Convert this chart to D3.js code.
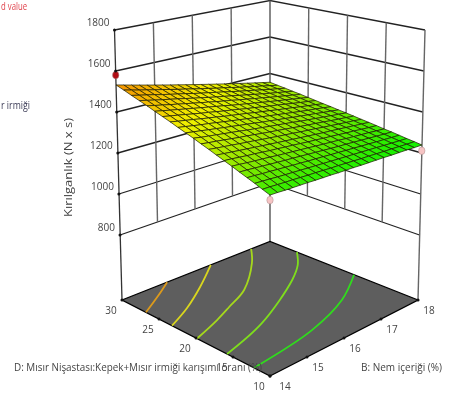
<!DOCTYPE html>
<html>
<head>
<meta charset="utf-8">
<script src="https://cdn.jsdelivr.net/npm/d3@7"></script>
<style>
  body { margin: 0; background: #fff; }
  svg { display: block; filter: blur(0.45px); }
  text { font-family: "Open Sans", sans-serif; font-size: 10px; fill: #444; }
</style>
</head>
<body>
<div id="chart"></div>
<script>
// Values
var zTicks = [800, 1000, 1200, 1400, 1600, 1800];
var bTicks = [14, 15, 16, 17, 18];
var dTicks = [10, 15, 20, 25, 30];

// Fitted surface, one row per D value (10 to 30), one column per B step (14 to 18)
var surfaceB = [14, 14.2, 14.4, 14.6, 14.8, 15, 15.2, 15.4, 15.6, 15.8, 16, 16.2, 16.4, 16.6, 16.8, 17, 17.2, 17.4, 17.6, 17.8, 18];
var surfaceD = [10, 11, 12, 13, 14, 15, 16, 17, 18, 19, 20, 21, 22, 23, 24, 25, 26, 27, 28, 29, 30];
var surfaceZ = [
  [1265,1264,1262,1261,1260,1259,1257,1256,1255,1253,1252,1251,1249,1248,1247,1246,1244,1243,1242,1240,1239],
  [1278,1277,1275,1273,1272,1270,1268,1267,1265,1263,1262,1260,1258,1256,1255,1253,1251,1250,1248,1246,1245],
  [1292,1290,1288,1285,1283,1281,1279,1277,1275,1273,1271,1269,1267,1265,1263,1261,1259,1256,1254,1252,1250],
  [1305,1303,1300,1298,1295,1293,1290,1288,1285,1283,1281,1278,1276,1273,1271,1268,1266,1263,1261,1258,1256],
  [1318,1316,1313,1310,1307,1304,1301,1299,1296,1293,1290,1287,1284,1281,1279,1276,1273,1270,1267,1264,1262],
  [1332,1329,1325,1322,1319,1316,1312,1309,1306,1303,1300,1296,1293,1290,1287,1283,1280,1277,1274,1270,1267],
  [1345,1342,1338,1334,1331,1327,1323,1320,1316,1313,1309,1305,1302,1298,1295,1291,1287,1284,1280,1276,1273],
  [1358,1354,1350,1346,1342,1338,1334,1330,1326,1322,1318,1314,1310,1306,1302,1299,1295,1291,1287,1283,1279],
  [1372,1367,1363,1359,1354,1350,1346,1341,1337,1332,1328,1324,1319,1315,1311,1306,1302,1297,1293,1289,1284],
  [1385,1380,1376,1371,1366,1361,1357,1352,1347,1342,1338,1333,1328,1323,1318,1314,1309,1304,1299,1295,1290],
  [1399,1393,1388,1383,1378,1373,1368,1362,1357,1352,1347,1342,1337,1332,1326,1321,1316,1311,1306,1301,1296],
  [1412,1406,1401,1395,1390,1384,1379,1373,1368,1362,1356,1351,1345,1340,1334,1329,1323,1318,1312,1307,1301],
  [1425,1419,1413,1407,1402,1396,1390,1384,1378,1372,1366,1360,1354,1348,1342,1336,1330,1324,1319,1313,1307],
  [1439,1432,1426,1420,1413,1407,1401,1394,1388,1382,1376,1369,1363,1357,1350,1344,1338,1331,1325,1319,1312],
  [1452,1445,1439,1432,1425,1418,1412,1405,1398,1392,1385,1378,1372,1365,1358,1352,1345,1338,1331,1325,1318],
  [1465,1458,1451,1444,1437,1430,1423,1416,1409,1402,1394,1387,1380,1373,1366,1359,1352,1345,1338,1331,1324],
  [1479,1471,1464,1456,1449,1441,1434,1426,1419,1411,1404,1397,1389,1382,1374,1367,1359,1352,1344,1337,1330],
  [1492,1484,1476,1468,1461,1453,1445,1437,1429,1421,1413,1406,1398,1390,1382,1374,1366,1358,1351,1343,1335],
  [1505,1497,1489,1481,1472,1464,1456,1448,1439,1431,1423,1415,1407,1398,1390,1382,1374,1365,1357,1349,1341],
  [1519,1510,1501,1493,1484,1476,1467,1458,1450,1441,1432,1424,1415,1407,1398,1389,1381,1372,1364,1355,1346],
  [1532,1523,1514,1505,1496,1487,1478,1469,1460,1451,1442,1433,1424,1415,1406,1397,1388,1379,1370,1361,1352]
];

// Design points
var pointB = [14, 18, 14];
var pointD = [30, 10, 10];
var pointZ = [1580, 1211, 1243];
var pointColor = ["#b00d14", "#f6c4c4", "#f6c4c4"];

// Contours on the floor, as [B, D] pairs
var contours = [
  [[15.22, 30], [14.66, 28.44], [14, 26.76]],
  [[16.4, 30], [15.55, 27.2], [14.73, 24.86], [14, 23.24]],
  [[17.49, 30], [17.04, 27.64], [16.08, 23.9], [15.36, 22.32], [14.81, 21.2], [14, 19.86]],
  [[18, 26.36], [17.59, 24.2], [17.04, 22.2], [15.34, 17.8], [14, 15.8]],
  [[18, 18.64], [17.07, 15.64], [15.81, 13.38], [14, 12.16]]
];
var contourColor = ["#dc9a1c", "#d9d61e", "#a5d81c", "#7ede1c", "#2fdd1c"];

// set the dimensions of the graph
var width = 458, height = 404;

var svg = d3.select("#chart")
  .append("svg")
  .attr("width", width)
  .attr("height", height);

// Scales: axis value to 0-1 along the box
var bScale = d3.scaleLinear().domain([14, 18]).range([0, 1]);
var dScale = d3.scaleLinear().domain([10, 30]).range([0, 1]);
var zScale = d3.scaleLinear().domain([800, 1800]).range([0, 1]);

var colorScale = d3.scaleLinear()
  .domain([1240, 1330, 1420, 1532])
  .range(["#12f000", "#92e800", "#f0f000", "#f59000"]);

// Box corners on screen: front (B14,D10), right (B18,D10), left (B14,D30), back (B18,D30)
var floorBox = { f: [270, 376], r: [418, 300], l: [122, 300], k: [270, 241.5] };
var lowBox = { f: [270, 302], r: [419.5, 235], l: [120, 235], k: [270, 183] };
var topBox = { f: [270, 72], r: [425, 30], l: [114.5, 30], k: [270, 0.5] };

function onBox(box, b, d) {
  var s = bScale(b), t = dScale(d);
  return [0, 1].map(function(i) {
    return box.f[i] * (1 - s) * (1 - t) + box.r[i] * s * (1 - t) + box.l[i] * (1 - s) * t + box.k[i] * s * t;
  });
}

function floorPoint(b, d) {
  return onBox(floorBox, b, d);
}

function project(b, d, z) {
  var lo = onBox(lowBox, b, d), hi = onBox(topBox, b, d), u = zScale(z);
  return [lo[0] + (hi[0] - lo[0]) * u, lo[1] + (hi[1] - lo[1]) * u];
}

function seg(a, b, color, w) {
  svg.append("line")
    .attr("x1", a[0]).attr("y1", a[1])
    .attr("x2", b[0]).attr("y2", b[1])
    .attr("stroke", color)
    .attr("stroke-width", w);
}

// Walls: horizontal lines
zTicks.forEach(function(z) {
  seg(project(14, 30, z), project(18, 30, z), "#222", 1.3);
  seg(project(18, 30, z), project(18, 10, z), "#222", 1.3);
});

// Walls: vertical lines
bTicks.slice(1, 4).forEach(function(b) {
  seg(project(b, 30, 800), project(b, 30, 1800), "#666", 1.4);
});
dTicks.slice(1, 4).forEach(function(d) {
  seg(project(18, d, 800), project(18, d, 1800), "#666", 1.4);
});

// Corner posts down to the floor
seg(floorPoint(14, 30), project(14, 30, 1800), "#333", 1.3);
seg(floorPoint(18, 10), project(18, 10, 1800), "#666", 1.4);
seg(floorPoint(18, 30), project(18, 30, 1800), "#555", 1.4);

// Stems of the design points, the floor covers them
seg(floorPoint(14, 10), project(14, 10, 1243), "#888", 1.2);

// Floor
svg.append("path")
  .attr("d", d3.line()([floorPoint(14, 10), floorPoint(18, 10), floorPoint(18, 30), floorPoint(14, 30)]) + "Z")
  .attr("fill", "#5e5e5e")
  .attr("stroke", "#000")
  .attr("stroke-width", 1.3);

// Contours
var contourLine = d3.line()
  .x(function(p) { return floorPoint(p[0], p[1])[0]; })
  .y(function(p) { return floorPoint(p[0], p[1])[1]; })
  .curve(d3.curveCatmullRom);

svg.selectAll(".contour")
  .data(contours)
  .enter()
  .append("path")
  .attr("class", "contour")
  .attr("d", contourLine)
  .attr("fill", "none")
  .attr("stroke", function(d, i) { return contourColor[i]; })
  .attr("stroke-width", 1.8);

// Surface cells
var cells = [];
for (var r = surfaceD.length - 2; r >= 0; r--) {
  for (var c = surfaceB.length - 2; c >= 0; c--) {
    cells.push({ r: r, c: c });
  }
}

svg.selectAll(".cell")
  .data(cells)
  .enter()
  .append("path")
  .attr("class", "cell")
  .attr("d", function(e) {
    return d3.line()([
      project(surfaceB[e.c], surfaceD[e.r], surfaceZ[e.r][e.c]),
      project(surfaceB[e.c + 1], surfaceD[e.r], surfaceZ[e.r][e.c + 1]),
      project(surfaceB[e.c + 1], surfaceD[e.r + 1], surfaceZ[e.r + 1][e.c + 1]),
      project(surfaceB[e.c], surfaceD[e.r + 1], surfaceZ[e.r + 1][e.c])
    ]) + "Z";
  })
  .attr("fill", function(e) {
    return colorScale((surfaceZ[e.r][e.c] + surfaceZ[e.r][e.c + 1] + surfaceZ[e.r + 1][e.c] + surfaceZ[e.r + 1][e.c + 1]) / 4);
  })
  .attr("stroke", "#1c1c00")
  .attr("stroke-opacity", 0.8)
  .attr("stroke-width", 0.9);

// Design points
svg.selectAll(".design")
  .data(pointZ)
  .enter()
  .append("ellipse")
  .attr("class", "design")
  .attr("cx", function(z, i) { return project(pointB[i], pointD[i], z)[0]; })
  .attr("cy", function(z, i) { return project(pointB[i], pointD[i], z)[1]; })
  .attr("rx", 3.2)
  .attr("ry", 3.8)
  .attr("fill", function(z, i) { return pointColor[i]; })
  .attr("stroke", "#a88")
  .attr("stroke-width", 0.5);

// Tick dots
function dot(p) {
  svg.append("circle").attr("cx", p[0]).attr("cy", p[1]).attr("r", 1.5).attr("fill", "#111");
}
zTicks.forEach(function(z) { dot(project(14, 30, z)); });
bTicks.forEach(function(b) { dot(floorPoint(b, 10)); });
dTicks.forEach(function(d) { dot(floorPoint(14, d)); });

// Tick labels
function label(p, str, anchor) {
  return svg.append("text")
    .attr("x", p[0])
    .attr("y", p[1])
    .attr("text-anchor", anchor)
    .attr("dominant-baseline", "middle")
    .text(str);
}
zTicks.forEach(function(z) {
  var p = project(14, 30, z);
  label([p[0] - 5, p[1] - 7], z, "end");
});
dTicks.forEach(function(d) {
  var p = floorPoint(14, d);
  label([p[0] - 11, p[1] + 11], d, "middle");
});
bTicks.forEach(function(b) {
  var p = floorPoint(b, 10);
  label([p[0] + (b == 14 ? 15 : 11), p[1] + 11], b, "middle");
});

// Axis titles
svg.append("text")
  .attr("transform", "translate(72,217) rotate(-90)")
  .attr("textLength", 99)
  .attr("lengthAdjust", "spacingAndGlyphs")
  .text("Kırılganlık (N x s)");

label([14, 368], "D: Mısır Nişastası:Kepek+Mısır irmiği karışımı oranı (%)", "start")
  .attr("textLength", 248)
  .attr("lengthAdjust", "spacingAndGlyphs");

label([361, 368], "B: Nem içeriği (%)", "start")
  .attr("textLength", 81)
  .attr("lengthAdjust", "spacingAndGlyphs");

// Legend text that the reference shows cut at the left edge
label([1, 7], "d value", "start")
  .attr("textLength", 26)
  .attr("lengthAdjust", "spacingAndGlyphs")
  .style("fill", "#e0404a");
label([1, 106], "r irmiği", "start")
  .attr("textLength", 29)
  .attr("lengthAdjust", "spacingAndGlyphs")
  .style("fill", "#3a3a55");
</script>
</body>
</html>
